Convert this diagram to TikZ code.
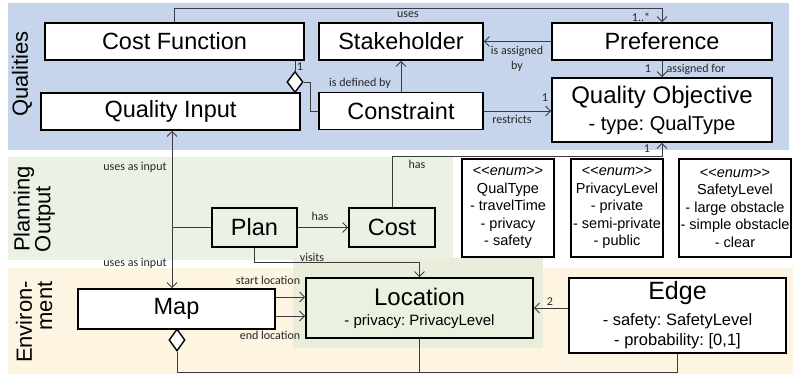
\documentclass[tikz,border=0pt]{standalone}
\usepackage{fontspec}
\setmainfont{Liberation Sans}
\newfontfamily\lab{Carlito}
\usetikzlibrary{arrows.meta,shapes.geometric,calc}
\definecolor{qblue}{HTML}{C6D4EC}
\definecolor{pgreen}{HTML}{EBF1E4}
\definecolor{ecream}{HTML}{FDF5E1}
\definecolor{lgreen}{HTML}{E8EEDA}
\definecolor{locfill}{HTML}{EBF1DF}
\definecolor{conncol}{HTML}{3C3C3C}
\frenchspacing
\begin{document}
\begin{tikzpicture}[x=1pt,y=-1pt,
  box/.style={draw=black,line width=1.6pt,fill=white,inner sep=0pt,align=center},
  big/.style={font=\fontsize{23.5}{26}\selectfont},
  enumbox/.style={box,font=\fontsize{14.5}{17.5}\selectfont},
  conn/.style={draw=conncol,line width=0.9pt},
  tip/.tip={Straight Barb[length=5pt,width=10pt,line width=0.9pt]},
  arr/.style={conn,-tip},
  lbl/.style={font=\lab\fontsize{12}{15}\selectfont,text=black!85,inner sep=0pt,align=center},
  side/.style={rotate=90,font=\fontsize{22}{24}\selectfont,inner sep=0pt},
  agg/.style={diamond,draw=black,line width=1.4pt,fill=white,inner sep=0pt,minimum width=16pt,minimum height=21pt}
]
\useasboundingbox (0,0) rectangle (798,377);
% bands
\fill[qblue] (8,3) rectangle (789,150);
\fill[pgreen] (8,157) rectangle (453,260);
\fill[ecream] (8,268) rectangle (793,374);
\fill[lgreen] (293,258) rectangle (543,348);
% side labels
\node[side] (tq) at (22,74) {Qualities};
\node[side] (tp1) at (24,209) {Planning};
\node[side] (tp2) at (45,219) {Output};
\node[side] (te1) at (24,322) {Environ-};
\node[side] (te2) at (45,306) {ment};
% qualities nodes
\node[box,big,minimum width=259pt,minimum height=37pt] (cf) at (174.5,41.5) {Cost Function};
\node[box,big,minimum width=259pt,minimum height=37pt] (qi) at (170.5,111.5) {Quality Input};
\node[box,big,minimum width=164pt,minimum height=37pt] (sh) at (401,41.5) {Stakeholder};
\node[box,big,minimum width=220pt,minimum height=37pt] (pref) at (662,41.5) {Preference};
\node[box,big,minimum width=164pt,minimum height=37pt] (con) at (401,111) {Constraint};
\node[box,font=\fontsize{20}{27}\selectfont,minimum width=220pt,minimum height=64pt] (qo) at (662,110)
  {{\fontsize{24}{26}\selectfont Quality Objective}\\- type: QualType};
\node[agg] (dia) at (295,82) {};
% planning nodes
\node[box,big,fill=pgreen,minimum width=85pt,minimum height=39pt] (plan) at (254.5,227.5) {Plan};
\node[box,big,fill=pgreen,minimum width=86pt,minimum height=39pt] (cost) at (392,227.5) {Cost};
% enums
\node[enumbox,minimum width=92pt,minimum height=98pt] (qt) at (508,208)
  {<{}<\textit{enum}>{}>\\QualType\\- travelTime\\- privacy\\- safety};
\node[enumbox,minimum width=92pt,minimum height=98pt] (pl) at (617,208)
  {<{}<\textit{enum}>{}>\\PrivacyLevel\\- private\\- semi-private\\- public};
\node[enumbox,minimum width=112pt,minimum height=98pt] (sl) at (735,208)
  {<{}<\textit{enum}>{}>\\SafetyLevel\\- large obstacle\\- simple obstacle\\- clear};
% environment nodes
\node[box,big,minimum width=197pt,minimum height=40pt] (map) at (176.5,309) {Map};
\node[box,fill=locfill,font=\fontsize{15}{20}\selectfont,minimum width=227pt,minimum height=60pt] (loc) at (419.5,308)
  {{\fontsize{24}{26}\selectfont Location}\\- privacy: PrivacyLevel};
\node[box,font=\fontsize{16.5}{20}\selectfont,minimum width=217pt,minimum height=75pt] (edge) at (677.5,315.5)
  {{\fontsize{25}{27}\selectfont Edge}\\[6pt]- safety: SafetyLevel\\- probability: [0,1]};
\node[agg,minimum height=22pt] (mdia) at (177,340) {};
% helper coordinates
\coordinate (vx) at (172,0);
\coordinate (topy) at (0,8);
\coordinate (hasy) at (0,156);
\coordinate (visy) at (0,262);
\coordinate (boty) at (0,372);
\coordinate (m1) at ($(map.east)+(0,-12)$);
\coordinate (m2) at ($(map.east)+(0,7)$);
% connectors
\draw[arr] (cf.north) -- (cf.north |- topy) -| (pref.north);
\draw[conn] (dia.north |- cf.south) -- (dia.north);
\draw[conn] (dia.east) -- ++(7,0) |- (con.west);
\draw[arr] (con.north) -- (sh.south);
\draw[arr] (pref.west) -- (sh.east);
\draw[arr] (pref.south) -- (qo.north);
\draw[arr] (con.east) -- (con.east -| qo.west);
\draw[arr] (cost.north) -- (cost.north |- hasy) -| (qo.south);
\draw[arr] (plan.east) -- (cost.west);
\draw[conn,tip-tip] (qi.south -| vx) -- (map.north -| vx);
\draw[conn] (plan.west) -- (plan.west -| vx);
\draw[arr] (plan.south) |- (loc.north |- visy) -- (loc.north);
\draw[arr] (m1) -- (m1 -| loc.west);
\draw[arr] (m2) -- (m2 -| loc.west);
\draw[arr] (loc.east -| edge.west) -- (loc.east);
\draw[conn] (mdia.south) -- (mdia.south |- boty) -| (edge.south);
\draw[conn] (loc.south) -- (loc.south |- boty);
% labels
\node[lbl] (l_uses) at (408,15) {uses};
\node[lbl] (l_m1) at (641,17) {1..*};
\node[lbl] (l_c1) at (300,67) {1};
\node[lbl] (l_def) at (360,83) {is defined by};
\node[lbl] (l_asg) at (517,59) {is assigned\\by};
\node[lbl] (l_p1) at (648,69) {1};
\node[lbl] (l_af) at (696,69) {assigned for};
\node[lbl] (l_r1) at (545,98) {1};
\node[lbl] (l_res) at (512,119) {restricts};
\node[lbl] (l_q1) at (647,149) {1};
\node[lbl] (l_hasq) at (417,164) {has};
\node[lbl] (l_ui1) at (135,167) {uses as input};
\node[lbl] (l_has) at (320,216) {has};
\node[lbl] (l_vis) at (312,257) {visits};
\node[lbl] (l_ui2) at (135,263) {uses as input};
\node[lbl] (l_sl) at (268,280) {start location};
\node[lbl] (l_el) at (270,335) {end location};
\node[lbl] (l_2) at (550,302) {2};
\end{tikzpicture}
\end{document}
